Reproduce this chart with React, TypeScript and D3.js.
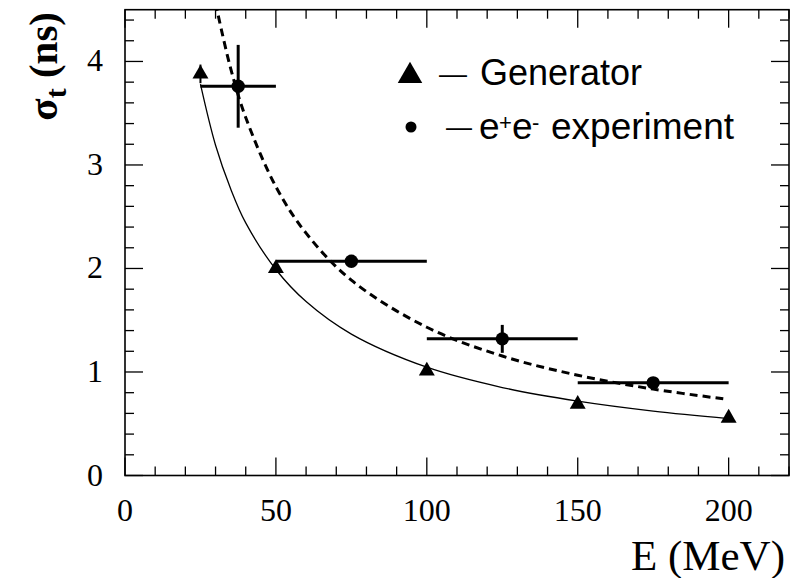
import React from 'react';
import * as d3 from 'd3';

const W = 794;
const H = 578;

// axis domains and tick labels
const xDomain = [0, 220];
const yDomain = [0, 4.5];
const xTickLabels = [0, 50, 100, 150, 200];
const yTickLabels = [0, 1, 2, 3, 4];

// Generator points (triangles)
const genE = [25, 50, 100, 150, 200];
const genSigma = [3.88, 2.0, 1.01, 0.69, 0.555];
const genErr = [0.09, 0, 0, 0, 0];

// e+e- experiment points (circles) with horizontal bin and vertical errors
const expE = [37.5, 75, 125, 175];
const expSigma = [3.76, 2.07, 1.32, 0.895];
const expELow = [25, 50, 100, 150];
const expEHigh = [50, 100, 150, 200];
const expErr = [0.4, 0.0, 0.135, 0.0];

// fit curves
const genFitE = [25, 30, 35, 40, 50, 60, 75, 100, 125, 150, 175, 200];
const genFitSigma = [3.78, 3.19, 2.77, 2.44, 1.99, 1.68, 1.366, 1.046, 0.85, 0.718, 0.622, 0.55];
const expFitE = [30, 35, 40, 50, 60, 75, 100, 125, 150, 175, 199];
const expFitSigma = [4.563, 3.933, 3.459, 2.79, 2.341, 1.887, 1.432, 1.154, 0.969, 0.835, 0.738];

const legendLabels = ['Generator', 'experiment'];

export default function App() {
  const x = d3.scaleLinear().domain(xDomain).range([125, 789]);
  const y = d3.scaleLinear().domain(yDomain).range([475.5, 9.7]);
  const [x0, x1] = x.range();
  const [y0, y1] = y.range();

  const xMinor = x.ticks(22);
  const yMinor = y.ticks(25);

  const line = d3
    .line<[number, number]>()
    .x((d) => x(d[0]))
    .y((d) => y(d[1]))
    .curve(d3.curveCatmullRom.alpha(0.5));

  const genPath = line(genFitE.map((e, i) => [e, genFitSigma[i]]));
  const expPath = line(expFitE.map((e, i) => [e, expFitSigma[i]]));

  const tri = d3.symbol().type(d3.symbolTriangle).size(110)();
  const triLegend = d3.symbol().type(d3.symbolTriangle).size(260)();

  const serif = '"Liberation Serif", "Times New Roman", serif';
  const sans = '"Liberation Sans", Arial, sans-serif';

  return (
    <svg
      width={W}
      height={H}
      style={{ position: 'absolute', left: 0, top: 0, background: '#fff' }}
    >
      <defs>
        <clipPath id="plotClip">
          <rect x={x0} y={y1} width={x1 - x0} height={y0 - y1} />
        </clipPath>
      </defs>

      {/* ticks */}
      <g stroke="#000" strokeWidth={1.3}>
        {xMinor.map((t) => {
          const len = t % 50 === 0 ? 18 : 9;
          return (
            <g key={'xt' + t}>
              <line x1={x(t)} x2={x(t)} y1={y0} y2={y0 - len} />
              <line x1={x(t)} x2={x(t)} y1={y1} y2={y1 + len} />
            </g>
          );
        })}
        {yMinor.map((t) => {
          const len = Math.abs(t - Math.round(t)) < 1e-6 ? 18 : 9;
          return (
            <g key={'yt' + t}>
              <line x1={x0} x2={x0 + len} y1={y(t)} y2={y(t)} />
              <line x1={x1} x2={x1 - len} y1={y(t)} y2={y(t)} />
            </g>
          );
        })}
      </g>

      {/* frame */}
      <rect
        x={x0}
        y={y1}
        width={x1 - x0}
        height={y0 - y1}
        fill="none"
        stroke="#000"
        strokeWidth={1.6}
      />

      {/* tick labels */}
      <g fontFamily={serif} fontSize={32} fill="#000">
        {xTickLabels.map((t) => (
          <text key={'xl' + t} x={x(t)} y={521} textAnchor="middle">
            {t}
          </text>
        ))}
        {yTickLabels.map((t) => (
          <text key={'yl' + t} x={103} y={y(t) + 10} textAnchor="end">
            {t}
          </text>
        ))}
      </g>

      {/* axis titles */}
      <text
        x={785}
        y={570}
        textAnchor="end"
        fontFamily={serif}
        fontSize={43}
        fill="#000"
      >
        E (MeV)
      </text>
      <text
        transform="translate(57,12) rotate(-90)"
        textAnchor="end"
        fontFamily={serif}
        fontSize={41}
        fontWeight="bold"
        fill="#000"
      >
        σ<tspan fontSize={30} dy={9}>t</tspan>
        <tspan dy={-9}> (ns)</tspan>
      </text>

      {/* curves */}
      <g clipPath="url(#plotClip)" fill="none" stroke="#000">
        <path d={genPath ?? ''} strokeWidth={1.3} />
        <path d={expPath ?? ''} strokeWidth={3} strokeDasharray="8,5" />
      </g>

      {/* generator markers */}
      <g>
        {genE.map((e, i) => (
          <g key={'g' + i}>
            {genErr[i] > 0 && (
              <line
                x1={x(e)}
                x2={x(e)}
                y1={y(genSigma[i] - genErr[i])}
                y2={y(genSigma[i] + genErr[i])}
                stroke="#000"
                strokeWidth={2}
              />
            )}
            <path d={tri ?? ''} transform={`translate(${x(e)},${y(genSigma[i])})`} fill="#000" />
          </g>
        ))}
      </g>

      {/* experiment markers */}
      <g stroke="#000" strokeWidth={3}>
        {expE.map((e, i) => (
          <g key={'e' + i}>
            <line x1={x(expELow[i])} x2={x(expEHigh[i])} y1={y(expSigma[i])} y2={y(expSigma[i])} />
            {expErr[i] > 0 && (
              <line
                x1={x(e)}
                x2={x(e)}
                y1={y(expSigma[i] - expErr[i])}
                y2={y(expSigma[i] + expErr[i])}
              />
            )}
            <circle cx={x(e)} cy={y(expSigma[i])} r={6.7} fill="#000" stroke="none" />
          </g>
        ))}
      </g>

      {/* legend */}
      <g fill="#000">
        <path d={triLegend ?? ''} transform="translate(410,76)" />
        <text x={439} y={83} fontFamily={sans} fontSize={28}>—</text>
        <text x={480} y={85} fontFamily={sans} fontSize={36}>{legendLabels[0]}</text>

        <circle cx={411} cy={127} r={5.5} />
        <text x={446} y={136} fontFamily={sans} fontSize={26}>—</text>
        <text x={479} y={139} fontFamily={sans} fontSize={37}>
          e<tspan x={499} fontSize={22} dy={-9}>+</tspan>
          <tspan x={512} dy={9}>e</tspan>
          <tspan x={532} fontSize={22} dy={-9}>-</tspan>
          <tspan x={551} dy={9}>{legendLabels[1]}</tspan>
        </text>
      </g>
    </svg>
  );
}
